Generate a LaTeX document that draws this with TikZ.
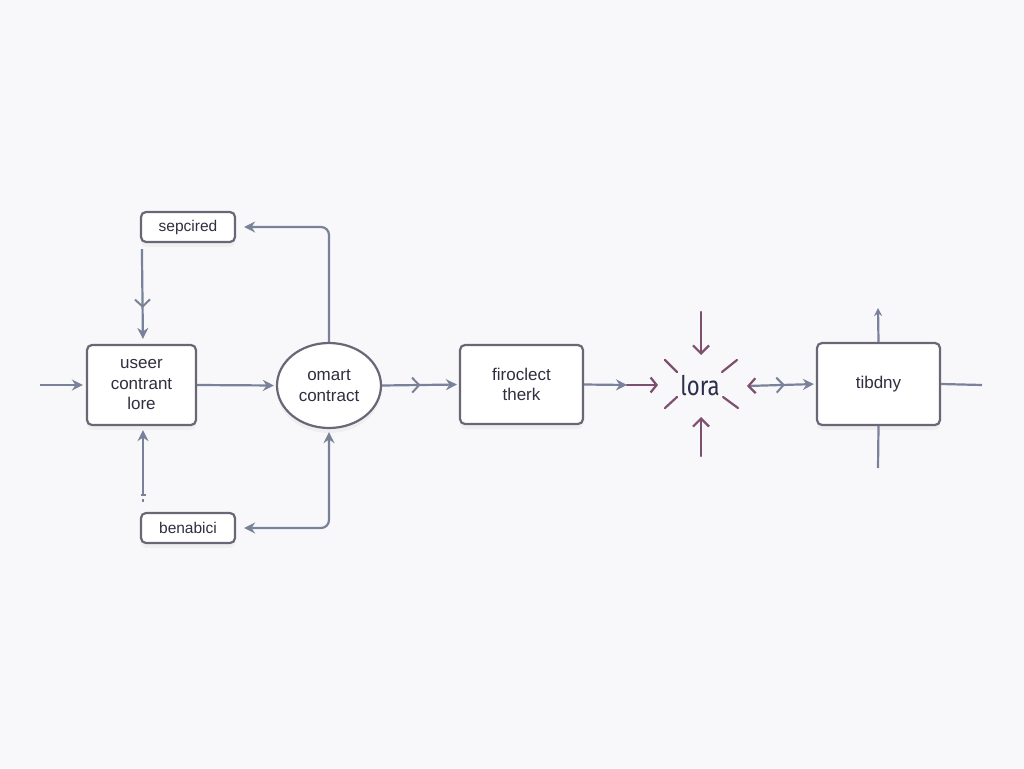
\documentclass[tikz,border=0pt]{standalone}
\usepackage{fontspec}
\setmainfont{Liberation Sans}
\newfontfamily\lorafont{Fira Sans}
\usetikzlibrary{arrows.meta,shapes.geometric,shadows,decorations.markings,calc}
\definecolor{bgc}{HTML}{F8F8FB}
\definecolor{linec}{HTML}{7A8299}
\definecolor{boxc}{HTML}{6A6676}
\definecolor{purp}{HTML}{7D506F}
\definecolor{txtc}{HTML}{2F2F3F}
\definecolor{lorac}{HTML}{2B2D4A}
\tikzset{
  boxstyle/.style={draw=boxc, line width=2.2pt, fill=white, rounded corners=5pt,
    drop shadow={opacity=0.07, shadow xshift=0pt, shadow yshift=-5pt},
    text=txtc, align=center, inner sep=0pt},
  bigtext/.style={font=\fontsize{17}{20.5}\selectfont},
  smalltext/.style={font=\fontsize{15.5}{18}\selectfont},
  conn/.style={draw=linec, line width=2.2pt, rounded corners=8pt},
  tipg/.style={-{Stealth[length=11pt,width=11pt,color=linec]}},
  midv/.style={postaction={decorate}, decoration={markings,
    mark=at position #1 with {\arrow[linec,line width=2pt]{Straight Barb[length=7pt,width=15pt]}}}},
  purpline/.style={draw=purp, line width=2.2pt, line cap=round},
}
\begin{document}
\begin{tikzpicture}[x=1pt,y=-1pt]
\useasboundingbox[fill=bgc] (0,0) rectangle (1024,768);

% nodes
\node[boxstyle, smalltext, minimum width=94pt, minimum height=30pt] (sep) at (188,227) {sepcired};
\node[boxstyle, bigtext, minimum width=109pt, minimum height=80pt] (user) at (141.5,385) {useer\\contrant\\lore};
\node[boxstyle, smalltext, minimum width=94pt, minimum height=30pt] (ben) at (188,528) {benabici};
\node[ellipse, draw=boxc, line width=2.2pt, fill=white, bigtext, text=txtc, align=center,
      minimum width=104pt, minimum height=85pt, inner sep=0pt,
      drop shadow={opacity=0.07, shadow xshift=0pt, shadow yshift=-5pt}] (sc) at (329,385.5) {omart\\contract};
\node[boxstyle, bigtext, minimum width=123pt, minimum height=79pt] (firo) at (521.5,384.5) {firoclect\\therk};
\node[text=lorac, font=\lorafont\fontsize{27}{30}\selectfont, xscale=0.82, inner sep=0pt] (lora) at (700,386) {lora};
\node[boxstyle, bigtext, minimum width=123pt, minimum height=82pt] (tib) at (878.5,384) {tibdny};

% coordinates
\coordinate (in) at (40,385);
\coordinate (g1) at (627,385);
\coordinate (p1) at (658,385);
\coordinate (lt) at (701,312);
\coordinate (ltend) at (701,355);
\coordinate (lb) at (701,456);
\coordinate (lbend) at (701,417);
\coordinate (lr) at (747,386);
\coordinate (tup) at (878,308);
\coordinate (tdown) at (878,468);
\coordinate (tright) at (982,385);
\coordinate (bdot) at (143,500);

% left connectors
\draw[conn, tipg, shorten >=3pt] (in) -- (user.west);
\draw[conn, tipg, midv=0.62, shorten >=5pt] ([shift={(2,6)}]sep.south west) -- ([xshift=1.5pt]user.north);
\draw[conn, tipg, shorten >=4pt] ([shift={(0,-5)}]bdot) -- ([xshift=1.5pt]user.south);
\draw[linec, line width=1.5pt] ([shift={(-2.5,-5)}]bdot) -- ([shift={(2.5,-5)}]bdot);
\fill[linec] ([shift={(-0.8,-1)}]bdot) rectangle ([shift={(0.8,2)}]bdot);
\draw[conn, tipg, shorten >=2pt] (user.east) -- (sc.west);
\draw[conn, tipg, shorten >=8pt] (sc.north) |- (sep.east);
\draw[conn, {Stealth[length=11pt,width=11pt,color=linec]}-{Stealth[length=11pt,width=11pt,color=linec]}, shorten <=3pt, shorten >=8pt] (sc.south) |- (ben.east);

% middle connectors
\draw[conn, tipg, midv=0.5, shorten >=2pt] (sc.east) -- (firo.west);
\draw[conn, tipg] (firo.east) -- (g1);
\draw[purpline, -{Straight Barb[length=6pt,width=15pt,color=purp]}] (g1) -- (p1);

% lora arrows
\draw[purpline, -{Straight Barb[length=8pt,width=16pt,color=purp]}] (lt) -- (ltend);
\draw[purpline, -{Straight Barb[length=8pt,width=16pt,color=purp]}] (lb) -- (lbend);
\draw[purpline] ([shift={(-35,-26)}]lora.center) -- ([shift={(-23,-14)}]lora.center);
\draw[purpline] ([shift={(22,-14)}]lora.center) -- ([shift={(37,-26)}]lora.center);
\draw[purpline] ([shift={(-35,22)}]lora.center) -- ([shift={(-23,11)}]lora.center);
\draw[purpline] ([shift={(23,11)}]lora.center) -- ([shift={(38,22)}]lora.center);

% lora to tibdny
\draw[conn, midv=0.55, {Straight Barb[length=7pt,width=15pt,color=purp,line width=2.2pt]}-{Stealth[length=11pt,width=11pt,color=linec]}, shorten >=2pt] (lr) -- (tib.west);

% tibdny lines
\draw[conn, -{Stealth[length=8pt,width=8pt,color=linec]}] (tib.north) -- (tup);
\draw[conn] (tib.south) -- (tdown);
\draw[conn] (tib.east) -- (tright);
\end{tikzpicture}
\end{document}
